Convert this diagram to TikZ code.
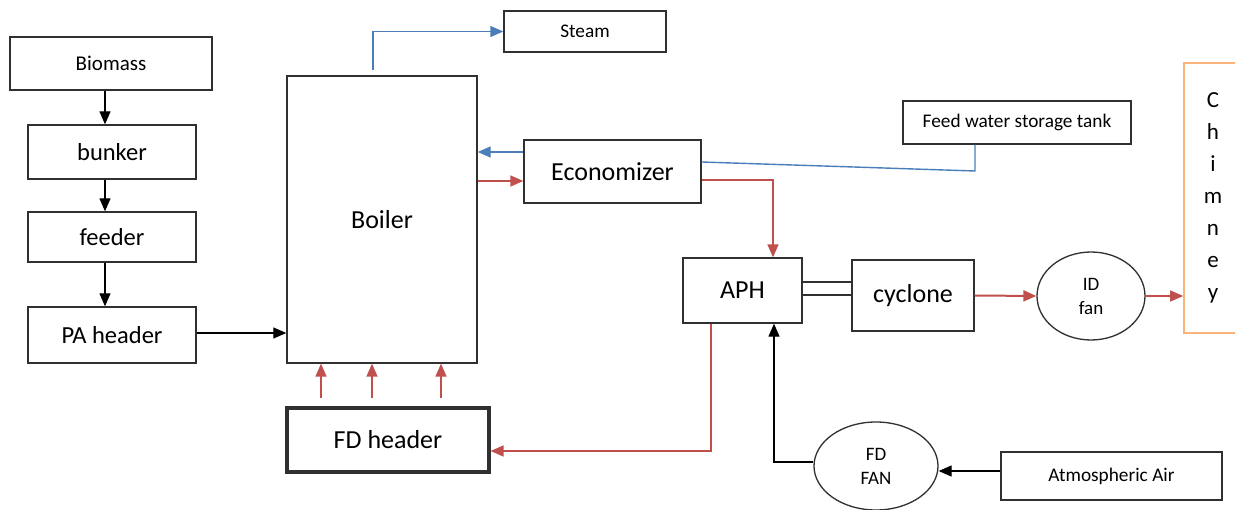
\documentclass[tikz,border=0pt]{standalone}
\usepackage{fontspec}
\setmainfont{Carlito}
\usetikzlibrary{arrows.meta,shapes.geometric}
\definecolor{bl}{HTML}{4A7EBB}
\definecolor{rd}{HTML}{C0504D}
\definecolor{og}{HTML}{F8B47A}
\definecolor{bd}{HTML}{303030}
\begin{document}
\begin{tikzpicture}[x=1pt,y=-1pt,
  box/.style={draw=bd,line width=1.4pt,rectangle,inner sep=0pt,font=\fontsize{26}{30}\selectfont},
  lbox/.style={box,font=\fontsize{24.5}{28}\selectfont},
  sbox/.style={box,font=\fontsize{19.3}{22}\selectfont},
  fan/.style={draw=bd,line width=1.3pt,ellipse,inner sep=0pt,align=center,font=\fontsize{19}{24}\selectfont},
  tip/.style={-{Triangle[length=13pt,width=11pt]}},
  blk/.style={tip,draw=black,line width=1.3pt},
  blu/.style={tip,draw=bl,line width=1.4pt},
  red1/.style={tip,draw=rd,line width=1.5pt}
]
\useasboundingbox (0,0) rectangle (1235,510);
\fill[white] (0,0) rectangle (1235,510);

% left column
\node[sbox,font=\fontsize{21}{24}\selectfont,minimum width=202pt,minimum height=53pt] (biomass) at (111,63.5) {Biomass};
\node[lbox,minimum width=168pt,minimum height=54pt] (bunker) at (112,152) {bunker};
\node[lbox,minimum width=168pt,minimum height=50pt] (feeder) at (112,237) {feeder};
\node[lbox,minimum width=168pt,minimum height=56pt] (pa) at (112,335) {PA header};

% boiler and others
\node[box,minimum width=190pt,minimum height=287pt] (boiler) at (382,219.5) {Boiler};
\node[sbox,minimum width=162pt,minimum height=41pt] (steam) at (585,31.5) {Steam};
\node[box,minimum width=177pt,minimum height=63pt] (econ) at (612.5,171.5) {Economizer};
\node[sbox,minimum width=228pt,minimum height=43pt] (tank) at (1017,122.5) {Feed water storage tank};
\node[box,minimum width=119pt,minimum height=65pt] (aph) at (742.5,290.5) {APH};
\node[draw=bd,line width=1.3pt,minimum width=50pt,minimum height=13pt,inner sep=0pt] (duct) at (827,288.5) {};
\node[box,minimum width=122pt,minimum height=71pt] (cyc) at (913,295.5) {cyclone};
\node[fan,minimum width=108pt,minimum height=88pt] (idfan) at (1091,296) {ID\\fan};
\node[draw=og,line width=1.6pt,minimum width=58pt,minimum height=270pt,inner sep=0pt,align=center,
      font=\fontsize{23}{32}\selectfont] (chim) at (1213,198) {C\\h\\i\\m\\n\\e\\y};
\node[box,line width=3.2pt,minimum width=202pt,minimum height=64pt] (fdh) at (388,440) {FD header};
\node[fan,minimum width=124pt,minimum height=88pt] (fdfan) at (876,466) {FD\\FAN};
\node[sbox,minimum width=221pt,minimum height=48pt] (atm) at (1111.5,476) {Atmospheric Air};

% fuel path
\draw[blk] (biomass.south -| 105,0) -- (bunker.north -| 105,0);
\draw[blk] (bunker.south -| 105,0) -- (feeder.north -| 105,0);
\draw[blk] (feeder.south -| 105,0) -- (pa.north -| 105,0);
\draw[blk] (pa.east |- 0,333) -- (boiler.west |- 0,333);

% water / steam
\coordinate (s0) at (373,70);
\draw[blu] (s0) |- (steam.west);
\draw[blu] (econ.west |- 0,152) -- (boiler.east |- 0,152);
\draw[bl,line width=1.4pt] (tank.south -| 975,0) -- (975,171) -- (econ.east |- 0,162);

% flue gas
\draw[red1] (boiler.east |- 0,181) -- (econ.west |- 0,181);
\draw[red1] (econ.east |- 0,180) -| (aph.north -| 773,0);
\draw[red1] (aph.south -| 711,0) |- (fdh.east |- 0,451);
\draw[red1] (fdh.north -| 321,0) ++(0,-8) -- (boiler.south -| 321,0);
\draw[red1] (fdh.north -| 372,0) ++(0,-8) -- (boiler.south -| 372,0);
\draw[red1] (fdh.north -| 441,0) ++(0,-8) -- (boiler.south -| 441,0);
\draw[red1,line width=2pt] (cyc.east) -- (idfan.west);
\draw[red1] (idfan.east) -- (chim.west |- idfan.east);

% air
\draw[blk] (atm.west |- 0,471) -- (fdfan.east |- 0,471);
\draw[blk] (fdfan.west |- 0,462) -| (aph.south -| 774,0);
\end{tikzpicture}
\end{document}
